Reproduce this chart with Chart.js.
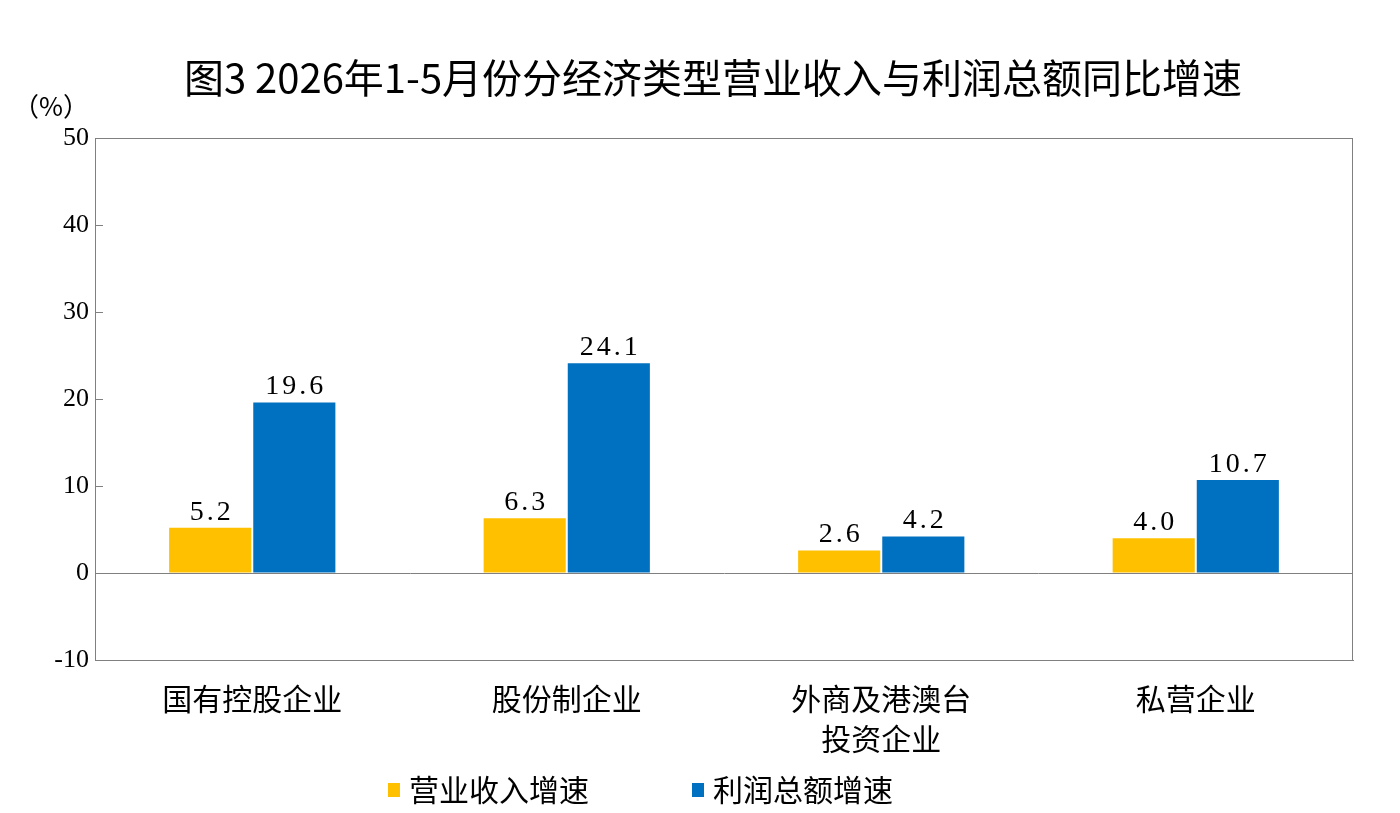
<!DOCTYPE html>
<html>
<head>
<meta charset="utf-8">
<script src="https://cdn.jsdelivr.net/npm/chart.js@4/dist/chart.umd.min.js"></script>
<style>
  html, body { margin: 0; padding: 0; background: #fff; }
  #wrap { width: 1400px; height: 813px; }
</style>
</head>
<body>
<div id="wrap"><canvas id="barChart"></canvas></div>
<script>
let categories = ['国有控股企业', '股份制企业', ['外商及港澳台', '投资企业'], '私营企业'];
let revenue = [5.2, 6.3, 2.6, 4.0];
let profit = [19.6, 24.1, 4.2, 10.7];
let seriesNames = ['营业收入增速', '利润总额增速'];
let seriesColors = ['#FFC000', '#0070C0'];
let yTicks = [-10, 0, 10, 20, 30, 40, 50];
let chartTitle = '图3 2026年1-5月份分经济类型营业收入与利润总额同比增速';

const cjk = '"Noto Sans CJK SC", "Noto Sans", sans-serif';
const serif = '"Liberation Serif", "DejaVu Serif", serif';

// title, frame, inner tick marks, unit label, value labels and legend
const extras = {
  id: 'extras',
  afterDatasetsDraw(chart) {
    const c = chart.ctx;
    const a = chart.chartArea;
    const y = chart.scales.y;
    c.save();
    c.strokeStyle = '#808080';
    c.lineWidth = 1;
    c.strokeRect(a.left + 0.5, a.top + 0.5, a.right - a.left - 1, a.bottom - a.top);
    c.beginPath();
    yTicks.forEach(v => {
      const py = Math.round(y.getPixelForValue(v)) + 0.5;
      c.moveTo(a.left, py);
      c.lineTo(a.left + 8, py);
    });
    c.stroke();

    c.fillStyle = '#000';
    c.textAlign = 'center';
    c.textBaseline = 'middle';
    c.font = '400 40px ' + cjk;
    c.fillText(chartTitle, 713, 78);

    c.font = '26px ' + cjk;
    c.fillText('（%）', a.left - 44, a.top - 32);

    c.font = '28px ' + serif;
    c.letterSpacing = '3px';
    c.textBaseline = 'alphabetic';
    chart.data.datasets.forEach((ds, i) => {
      chart.getDatasetMeta(i).data.forEach((bar, j) => {
        c.fillText(ds.data[j].toFixed(1), bar.x + 1.5, bar.y - 8);
      });
    });

    c.letterSpacing = '0px';
    c.textAlign = 'left';
    c.textBaseline = 'middle';
    c.font = '30px ' + cjk;
    let lx = 388;
    seriesNames.forEach((name, i) => {
      c.fillStyle = seriesColors[i];
      c.fillRect(lx, 783, 12, 14);
      c.fillStyle = '#000';
      c.fillText(name, lx + 21, 790);
      lx += 304;
    });
    c.restore();
  }
};

var ctx = document.getElementById('barChart').getContext('2d');
var barChart = new Chart(ctx, {
  type: 'bar',
  data: {
    labels: categories,
    datasets: [
      {
        label: seriesNames[0],
        data: revenue,
        backgroundColor: seriesColors[0]
      },
      {
        label: seriesNames[1],
        data: profit,
        backgroundColor: seriesColors[1]
      }
    ]
  },
  options: {
    responsive: true,
    maintainAspectRatio: false,
    animation: false,
    categoryPercentage: 0.535,
    barPercentage: 0.976,
    layout: { padding: { left: 0, right: 47, top: 138, bottom: 55 } },
    plugins: {
      title: { display: false },
      legend: { display: false },
      tooltip: { enabled: false }
    },
    scales: {
      x: {
        grid: { display: false, drawTicks: false },
        border: { color: '#808080' },
        afterFit: s => { s.height = 98; },
        ticks: {
          color: '#000',
          font: { family: cjk, size: 30, lineHeight: 1.34 },
          padding: 18,
          maxRotation: 0
        }
      },
      y: {
        min: -10,
        max: 50,
        afterFit: s => { s.width = 95; },
        afterBuildTicks: s => { s.ticks = yTicks.map(v => ({ value: v })); },
        grid: {
          drawTicks: false,
          color: c => c.tick && c.tick.value === 0 ? '#808080' : 'rgba(0,0,0,0)'
        },
        border: { color: '#808080' },
        ticks: {
          color: '#000',
          font: { family: serif, size: 26 },
          padding: 6
        }
      }
    }
  },
  plugins: [extras]
});
</script>
</body>
</html>
